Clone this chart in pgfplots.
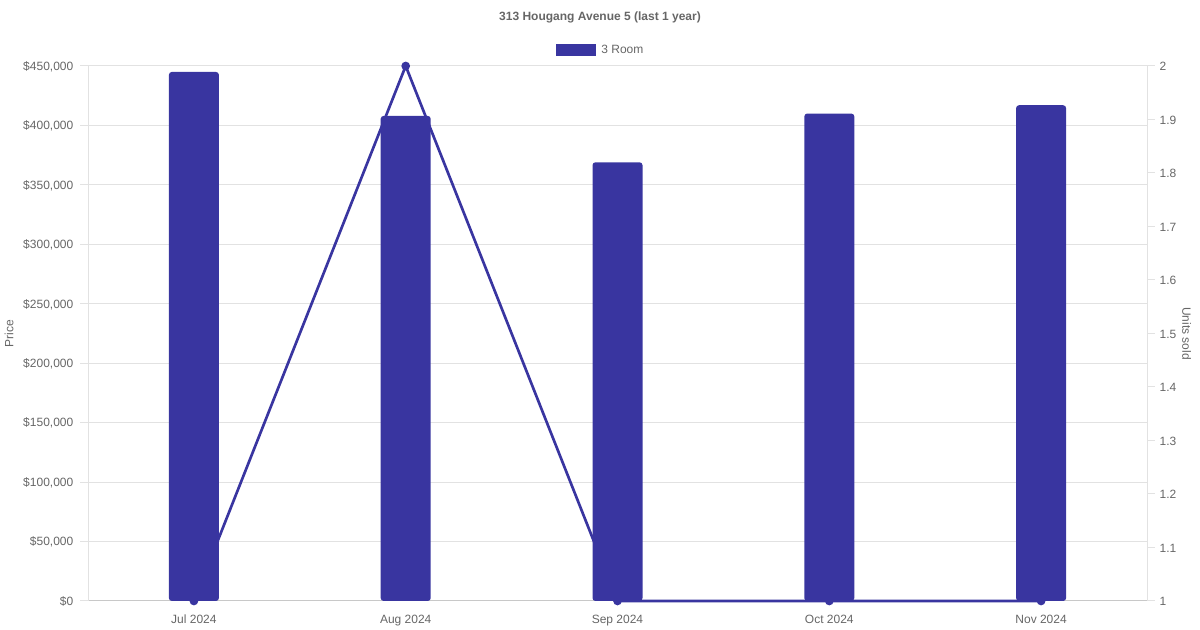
\documentclass[border=0pt]{standalone}
\usepackage{pgfplots}
\pgfplotsset{compat=1.18}
\usepackage{fontspec}
\setmainfont{Liberation Sans}
\definecolor{barc}{RGB}{57,53,160}
\definecolor{txt}{RGB}{102,102,102}
\definecolor{grd}{RGB}{226,226,226}
\definecolor{axl}{RGB}{200,200,200}
\begin{document}
\begin{tikzpicture}
\useasboundingbox (0pt,0pt) rectangle (900pt,472.5pt);
\pgfplotsset{
  base/.style={
    scale only axis, width=794.25pt, height=401.25pt,
    at={(66pt,21.75pt)}, anchor=south west,
    xmin=-0.5, xmax=4.5,
    tick label style={font=\fontsize{9}{11}\selectfont, text=txt},
    label style={font=\fontsize{9}{11}\selectfont, text=txt},
    /pgf/number format/assume math mode=true,
  }
}
% axis A: grid, left axis, x labels
\begin{axis}[base,
  ymin=0, ymax=450000,
  ytick={0,50000,...,450000},
  scaled y ticks=false,
  yticklabel={\$\pgfmathprintnumber[fixed,precision=0,1000 sep={,}]{\tick}},
  ymajorgrids, grid style={grd, line width=0.75pt},
  axis x line*=bottom, axis y line*=left,
  x axis line style={axl, line width=0.75pt, -},
  y axis line style={grd, line width=0.75pt, -},
  ytick pos=left, ytick align=outside,
  major tick length=6pt,
  ytick style={grd, line width=0.75pt},
  xtick={0,1,2,3,4},
  xticklabels={Jul 2024,Aug 2024,Sep 2024,Oct 2024,Nov 2024},
  xtick style={draw=none},
  xticklabel style={yshift=-7pt},
  yticklabel style={xshift=-1.5pt, yshift=-0.5pt},
  ylabel={Price},
  ylabel style={at={(axis description cs:-0.0745,0.5)}, anchor=center},
]
\addplot[draw=none] coordinates {(0,0)};
\end{axis}
% axis B: line, right axis
\begin{axis}[base,
  ymin=1, ymax=2,
  ytick={1,1.1,1.2,1.3,1.4,1.5,1.6,1.7,1.8,1.9,2},
  yticklabels={1,1.1,1.2,1.3,1.4,1.5,1.6,1.7,1.8,1.9,2},
  axis y line*=right, axis x line=none,
  y axis line style={grd, line width=0.75pt, -},
  ytick align=outside, major tick length=6pt,
  ytick style={grd, line width=0.75pt},
  yticklabel style={xshift=0pt, yshift=-0.5pt},
  ylabel={Units sold},
  ylabel style={at={(axis description cs:1.0375,0.5)}, anchor=center, rotate=180},
  clip=false,
]
\addplot[barc, line width=2pt, mark=*, mark size=2.2pt, mark options={fill=barc}]
  coordinates {(0,1) (1,2) (2,1) (3,1) (4,1)};
\end{axis}
% axis C: bars
\begin{axis}[base,
  ymin=0, ymax=450000,
  hide axis,
  ybar, bar width=37.5pt,
  legend style={at={(axis description cs:0.4845,1.03)}, anchor=center,
    draw=none, fill=none, font=\fontsize{9}{11}\selectfont, text=txt,
    /tikz/every even column/.append style={column sep=3pt}},
]
\addplot[fill=barc, draw=none, rounded corners=2.2pt,
  legend image code/.code={\fill[barc, sharp corners] (0pt,-4.5pt) rectangle (30pt,4.5pt);}]
  coordinates {(0,445000) (1,408000) (2,369000) (3,410000) (4,417000)};
\addlegendentry{\hspace{2pt}3 Room}
\end{axis}
\node[font=\bfseries\fontsize{9}{11}\selectfont, text=txt] at (450pt,459.75pt) {313 Hougang Avenue 5 (last 1 year)};
\end{tikzpicture}
\end{document}
